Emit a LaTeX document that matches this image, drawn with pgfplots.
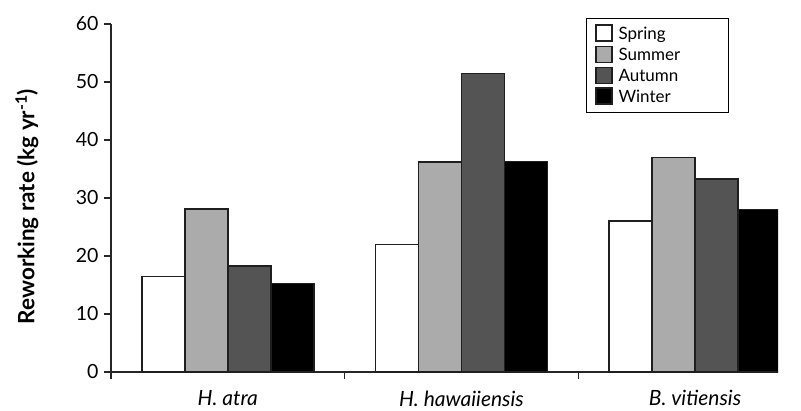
\documentclass[border=0pt]{standalone}
\usepackage{pgfplots}
\pgfplotsset{compat=1.18}
\usepackage{fontspec}
\setmainfont{Lato}
\begin{document}
\begin{tikzpicture}
\useasboundingbox (-111pt,-38pt) rectangle (690pt,372pt);
\begin{axis}[
 at={(0,0)}, anchor=south west,
 scale only axis, width=667pt, height=348pt,
 xmin=-0.5, xmax=2.355, ymin=0, ymax=60,
 axis x line=bottom, axis y line=left,
 axis line style={-, line width=1.2pt, color=black!85},
 /pgf/number format/assume math mode=true,
 ytick={0,10,...,60},
 tick align=outside,
 major tick length=7pt,
 y tick style={line width=1.2pt, color=black!85},
 y tick label style={font=\fontsize{19.5}{22}\selectfont, xshift=-2pt},
 xtick={0,1,2},
 xticklabels={\textit{H. atra}, \textit{H. hawaiiensis}, \textit{B. vitiensis}},
 x tick style={draw=none},
 x tick label style={font=\fontsize{21}{24}\selectfont, yshift=-8pt},
 extra x ticks={-0.5,0.5,1.5},
 extra x tick labels={},
 extra x tick style={x tick style={draw=black!85, line width=1.2pt}},
 ylabel={\textbf{Reworking rate (kg yr\textsuperscript{-1})}},
 ylabel style={at={(axis description cs:-0.126,0.475)}, anchor=center, font=\fontsize{22.5}{25}\selectfont},
 ybar=0pt, bar width=0.184,
 legend style={at={(0.712,1.017)}, anchor=north west, draw=black, line width=0.8pt,
   font=\fontsize{17}{19}\selectfont, row sep=2.5pt, inner xsep=9pt, inner ysep=6pt,
   legend cell align=left,
   /tikz/every odd column/.append style={column sep=4pt}},
 legend image code/.code={\draw[#1, line width=1.2pt] (0pt,-7pt) rectangle (16pt,9pt);},
]
\addplot[fill=white, draw=black!88, line width=1.5pt] coordinates {(0,16.5) (1,22.0) (2,26.0)};
\addplot[fill=black!33, draw=black!88, line width=1.5pt] coordinates {(0,28.1) (1,36.2) (2,37.0)};
\addplot[fill=black!67, draw=black!88, line width=1.5pt] coordinates {(0,18.3) (1,51.5) (2,33.3)};
\addplot[fill=black, draw=black!88, line width=1.5pt] coordinates {(0,15.3) (1,36.3) (2,28.0)};
\legend{\makebox[99pt][l]{Spring},\makebox[99pt][l]{Summer},\makebox[99pt][l]{Autumn},\makebox[99pt][l]{Winter}}
\end{axis}
\end{tikzpicture}
\end{document}
